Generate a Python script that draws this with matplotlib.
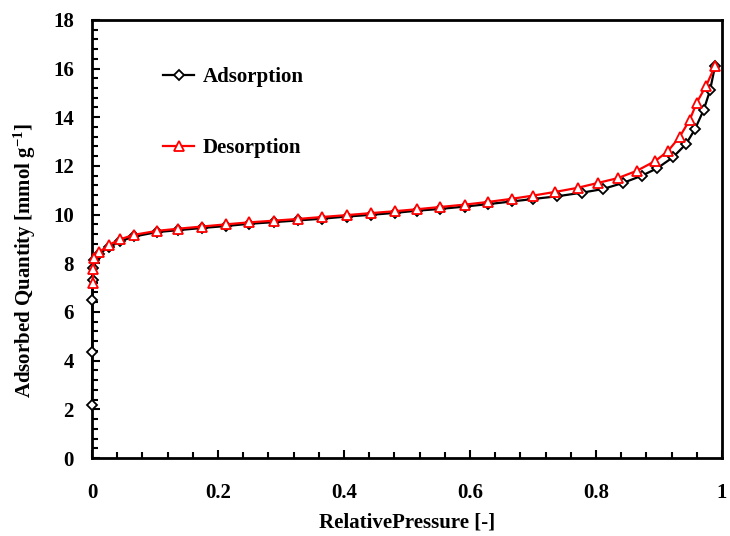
import matplotlib
matplotlib.use('Agg')
import matplotlib.pyplot as plt
from matplotlib.ticker import MultipleLocator

# adsorption branch
ads_p = [0.0001, 0.0003, 0.0006, 0.001, 0.002, 0.004, 0.011, 0.027, 0.044, 0.067,
         0.103, 0.137, 0.175, 0.213, 0.249, 0.289, 0.327, 0.365, 0.405, 0.443,
         0.481, 0.516, 0.552, 0.592, 0.629, 0.667, 0.700, 0.738, 0.778, 0.811,
         0.843, 0.873, 0.897, 0.922, 0.943, 0.957, 0.971, 0.981, 0.989]
ads_q = [2.18, 4.35, 6.49, 7.3, 7.8, 8.15, 8.4, 8.65, 8.9, 9.1,
         9.28, 9.36, 9.45, 9.53, 9.62, 9.69, 9.76, 9.83, 9.92, 9.99,
         10.07, 10.16, 10.23, 10.33, 10.43, 10.54, 10.64, 10.75, 10.9, 11.05,
         11.3, 11.6, 11.9, 12.35, 12.9, 13.5, 14.3, 15.1, 16.1]

# desorption branch
des_p = [0.989, 0.975, 0.960, 0.949, 0.933, 0.914, 0.894, 0.865, 0.835, 0.803,
         0.771, 0.735, 0.700, 0.667, 0.629, 0.592, 0.552, 0.516, 0.481, 0.443,
         0.405, 0.365, 0.327, 0.289, 0.249, 0.213, 0.175, 0.137, 0.103, 0.067,
         0.044, 0.027, 0.011, 0.004, 0.002, 0.001]
des_q = [16.1, 15.3, 14.6, 13.9, 13.2, 12.6, 12.2, 11.8, 11.5, 11.3,
         11.1, 10.93, 10.78, 10.65, 10.52, 10.41, 10.31, 10.22, 10.14, 10.06,
         9.98, 9.9, 9.82, 9.75, 9.68, 9.6, 9.51, 9.42, 9.33, 9.17,
         8.98, 8.75, 8.45, 8.2, 7.75, 7.2]

plt.rcParams['font.family'] = ['Liberation Serif', 'DejaVu Serif']
plt.rcParams['font.weight'] = 'bold'
plt.rcParams['mathtext.fontset'] = 'custom'
plt.rcParams['mathtext.rm'] = 'Liberation Serif:bold'
plt.rcParams['mathtext.default'] = 'rm'

fs = 15

fig = plt.figure(figsize=(7.3, 5.36), dpi=100)
ax = fig.add_axes([0.126, 0.1455, 0.863, 0.8175])

ax.plot(ads_p, ads_q, color='black', lw=1.6, marker='D', markersize=5,
        markerfacecolor='white', markeredgecolor='black', markeredgewidth=1.3,
        label='Adsorption', clip_on=False, zorder=3)
ax.plot(des_p, des_q, color='red', lw=1.6, marker='^', markersize=7,
        markerfacecolor='white', markeredgecolor='red', markeredgewidth=1.3,
        label='Desorption', clip_on=False, zorder=4)

ax.set_xlim(0, 1)
ax.set_ylim(0, 18)
ax.xaxis.set_major_locator(MultipleLocator(0.2))
ax.xaxis.set_minor_locator(MultipleLocator(0.04))
ax.yaxis.set_major_locator(MultipleLocator(2))
ax.yaxis.set_minor_locator(MultipleLocator(0.4))
ax.set_xticks([0, 0.2, 0.4, 0.6, 0.8, 1.0])
ax.set_xticklabels(['0', '0.2', '0.4', '0.6', '0.8', '1'])
ax.tick_params(which='both', direction='in', top=False, right=False,
               labelsize=fs, width=1.5)
ax.tick_params(axis='x', which='major', length=6, pad=18)
ax.tick_params(axis='y', which='major', length=6, pad=13)
ax.tick_params(which='minor', length=4)
for s in ax.spines.values():
    s.set_linewidth(2)

ax.set_xlabel('RelativePressure [-]', fontsize=fs, fontweight='bold', labelpad=7)
ax.set_ylabel('Adsorbed Quantity [mmol g$^{-1}$]', fontsize=fs, fontweight='bold')
ax.yaxis.set_label_coords(-0.085, 0.45)

ax.legend(loc='upper left', bbox_to_anchor=(0.083, 0.935), frameon=False,
          labelspacing=2.45, handlelength=1.5, handletextpad=0.4,
          prop={'weight': 'bold', 'size': fs})

fig.savefig('out.png', dpi=100)
